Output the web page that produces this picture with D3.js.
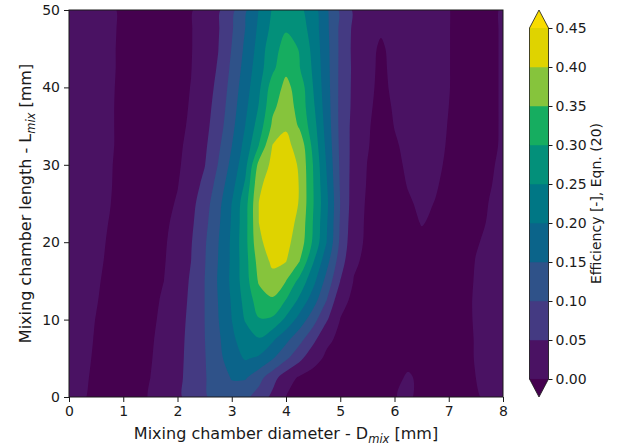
<!DOCTYPE html>
<html>
<head>
<meta charset="utf-8">
<script src="https://cdn.jsdelivr.net/npm/d3@7"></script>
<style>
  body { margin: 0; background: #ffffff; }
  svg { display: block; }
  text { font-family: "DejaVu Sans", sans-serif; fill: #1a1a1a; }
</style>
</head>
<body>
<svg id="chart" width="617" height="448"></svg>
<script>
// Grid axes of the sampled efficiency field
const diameters = [0, 0.25, 0.5, 0.75, 1, 1.25, 1.5, 1.75, 2, 2.25, 2.5, 2.75, 3, 3.25, 3.5, 3.75,
                   4, 4.25, 4.5, 4.75, 5, 5.25, 5.5, 5.75, 6, 6.25, 6.5, 6.75, 7, 7.25, 7.5, 7.75, 8];
const lengths = [0, 2.5, 5, 7.5, 10, 12.5, 15, 17.5, 20, 22.5, 25, 27.5, 30, 32.5, 35, 37.5, 40, 42.5, 45, 47.5, 50];

// Efficiency [-] (Eqn. 20), one row per mixing chamber length, columns follow `diameters`
const efficiency = [
  [0.025, 0.004, -0.010, -0.023, -0.024, -0.011, 0.003, 0.022, 0.042, 0.066, 0.095, 0.118, 0.131, 0.111, 0.080, 0.038, -0.001, -0.010, -0.019, -0.028, -0.032, -0.028, -0.025, -0.019, -0.002, 0.008, -0.014, -0.021, -0.024, -0.017, -0.003, 0.006, 0.014],
  [0.025, 0.007, -0.008, -0.021, -0.026, -0.013, 0.000, 0.020, 0.040, 0.065, 0.096, 0.126, 0.153, 0.155, 0.117, 0.070, 0.021, -0.006, -0.015, -0.024, -0.033, -0.030, -0.028, -0.024, -0.014, 0.007, -0.012, -0.022, -0.024, -0.016, 0.000, 0.008, 0.015],
  [0.025, 0.009, -0.005, -0.018, -0.028, -0.016, -0.003, 0.017, 0.038, 0.064, 0.097, 0.136, 0.176, 0.205, 0.192, 0.155, 0.109, 0.063, 0.015, -0.007, -0.017, -0.027, -0.032, -0.031, -0.025, -0.016, -0.022, -0.027, -0.026, -0.011, 0.002, 0.009, 0.016],
  [0.025, 0.011, -0.003, -0.016, -0.029, -0.018, -0.005, 0.013, 0.036, 0.063, 0.099, 0.141, 0.190, 0.226, 0.247, 0.210, 0.165, 0.117, 0.065, 0.008, -0.008, -0.018, -0.029, -0.032, -0.032, -0.031, -0.030, -0.028, -0.025, -0.010, 0.002, 0.010, 0.017],
  [0.025, 0.012, -0.001, -0.013, -0.026, -0.021, -0.008, 0.009, 0.033, 0.061, 0.100, 0.148, 0.200, 0.254, 0.297, 0.292, 0.239, 0.181, 0.120, 0.055, -0.001, -0.012, -0.024, -0.033, -0.031, -0.030, -0.028, -0.026, -0.024, -0.009, 0.003, 0.010, 0.017],
  [0.025, 0.014, 0.002, -0.011, -0.024, -0.023, -0.010, 0.005, 0.030, 0.058, 0.100, 0.151, 0.205, 0.267, 0.325, 0.343, 0.298, 0.239, 0.173, 0.100, 0.014, -0.009, -0.018, -0.030, -0.031, -0.029, -0.027, -0.025, -0.022, -0.008, 0.003, 0.009, 0.016],
  [0.025, 0.015, 0.004, -0.008, -0.021, -0.026, -0.013, 0.000, 0.027, 0.055, 0.100, 0.154, 0.211, 0.278, 0.356, 0.384, 0.350, 0.285, 0.216, 0.132, 0.050, -0.002, -0.014, -0.027, -0.030, -0.028, -0.025, -0.023, -0.022, -0.009, 0.002, 0.008, 0.015],
  [0.025, 0.016, 0.006, -0.005, -0.018, -0.030, -0.016, -0.003, 0.022, 0.050, 0.097, 0.151, 0.209, 0.281, 0.370, 0.409, 0.401, 0.350, 0.254, 0.167, 0.073, 0.007, -0.010, -0.024, -0.030, -0.026, -0.022, -0.021, -0.022, -0.012, 0.001, 0.007, 0.014],
  [0.025, 0.016, 0.007, -0.003, -0.016, -0.029, -0.018, -0.005, 0.017, 0.047, 0.094, 0.148, 0.209, 0.284, 0.390, 0.423, 0.411, 0.380, 0.292, 0.200, 0.090, 0.015, -0.007, -0.022, -0.027, -0.018, -0.009, -0.013, -0.019, -0.015, -0.002, 0.005, 0.012],
  [0.025, 0.017, 0.008, -0.001, -0.013, -0.026, -0.021, -0.008, 0.011, 0.041, 0.086, 0.141, 0.205, 0.282, 0.400, 0.427, 0.420, 0.388, 0.298, 0.205, 0.095, 0.020, -0.007, -0.023, -0.024, -0.012, 0.002, -0.006, -0.020, -0.021, -0.008, 0.003, 0.011],
  [0.025, 0.017, 0.009, 0.001, -0.011, -0.023, -0.025, -0.012, 0.004, 0.035, 0.078, 0.134, 0.201, 0.280, 0.401, 0.430, 0.427, 0.397, 0.303, 0.211, 0.099, 0.025, -0.006, -0.022, -0.019, -0.004, 0.006, -0.001, -0.014, -0.022, -0.011, 0.001, 0.010],
  [0.025, 0.017, 0.009, 0.002, -0.009, -0.021, -0.027, -0.015, -0.002, 0.026, 0.062, 0.119, 0.182, 0.257, 0.390, 0.424, 0.427, 0.398, 0.302, 0.204, 0.095, 0.028, -0.003, -0.022, -0.013, 0.002, 0.009, 0.003, -0.008, -0.020, -0.013, -0.002, 0.008],
  [0.025, 0.017, 0.010, 0.002, -0.007, -0.016, -0.026, -0.021, -0.006, 0.018, 0.048, 0.102, 0.164, 0.235, 0.365, 0.412, 0.422, 0.395, 0.299, 0.196, 0.092, 0.031, -0.001, -0.020, -0.009, 0.006, 0.011, 0.005, -0.004, -0.014, -0.016, -0.004, 0.006],
  [0.025, 0.018, 0.010, 0.003, -0.006, -0.016, -0.026, -0.022, -0.008, 0.012, 0.041, 0.090, 0.149, 0.217, 0.301, 0.401, 0.410, 0.385, 0.286, 0.187, 0.089, 0.033, 0.003, -0.018, -0.004, 0.008, 0.011, 0.006, -0.002, -0.011, -0.020, -0.007, 0.004],
  [0.025, 0.018, 0.010, 0.003, -0.006, -0.016, -0.026, -0.022, -0.010, 0.006, 0.035, 0.077, 0.136, 0.201, 0.273, 0.359, 0.396, 0.343, 0.273, 0.179, 0.087, 0.034, 0.005, -0.017, 0.001, 0.010, 0.011, 0.007, -0.001, -0.010, -0.020, -0.008, 0.004],
  [0.025, 0.018, 0.010, 0.003, -0.006, -0.016, -0.026, -0.023, -0.011, 0.003, 0.031, 0.069, 0.127, 0.189, 0.253, 0.340, 0.374, 0.333, 0.260, 0.174, 0.087, 0.038, 0.010, -0.016, 0.005, 0.011, 0.011, 0.006, 0.000, -0.010, -0.020, -0.008, 0.004],
  [0.025, 0.018, 0.011, 0.003, -0.005, -0.016, -0.026, -0.023, -0.012, 0.001, 0.028, 0.061, 0.119, 0.179, 0.240, 0.325, 0.362, 0.330, 0.250, 0.170, 0.088, 0.039, 0.012, -0.011, 0.009, 0.012, 0.011, 0.006, 0.001, -0.010, -0.020, -0.008, 0.004],
  [0.025, 0.018, 0.011, 0.004, -0.005, -0.015, -0.026, -0.023, -0.012, -0.001, 0.025, 0.054, 0.110, 0.169, 0.229, 0.288, 0.340, 0.302, 0.243, 0.167, 0.089, 0.040, 0.012, -0.008, 0.010, 0.012, 0.012, 0.006, 0.001, -0.009, -0.020, -0.008, 0.004],
  [0.025, 0.018, 0.011, 0.004, -0.005, -0.016, -0.026, -0.023, -0.013, -0.002, 0.022, 0.049, 0.102, 0.160, 0.219, 0.285, 0.315, 0.298, 0.236, 0.165, 0.090, 0.038, 0.011, -0.005, 0.010, 0.012, 0.012, 0.006, 0.001, -0.009, -0.020, -0.008, 0.004],
  [0.025, 0.018, 0.011, 0.004, -0.004, -0.015, -0.026, -0.024, -0.013, -0.002, 0.020, 0.046, 0.095, 0.151, 0.210, 0.264, 0.297, 0.276, 0.229, 0.161, 0.090, 0.040, 0.013, 0.004, 0.010, 0.013, 0.012, 0.006, 0.001, -0.009, -0.020, -0.008, 0.004],
  [0.025, 0.018, 0.011, 0.004, -0.004, -0.015, -0.026, -0.024, -0.013, -0.003, 0.018, 0.043, 0.088, 0.143, 0.202, 0.254, 0.276, 0.262, 0.223, 0.158, 0.091, 0.043, 0.020, 0.019, 0.017, 0.015, 0.011, 0.006, 0.001, -0.009, -0.020, -0.008, 0.004]
];

// Filled contour levels and tick values
const levels = [0, 0.05, 0.10, 0.15, 0.20, 0.25, 0.30, 0.35, 0.40, 0.45];
const xTicks = [0, 1, 2, 3, 4, 5, 6, 7, 8];
const yTicks = [0, 10, 20, 30, 40, 50];

// Band colours: below 0, the nine bands between levels, above 0.45
const bandColors = ["#45014f", "#4a1263", "#443a82", "#2f5289", "#0b648a", "#007785",
                    "#03907a", "#16ad60", "#86c43c", "#dfd300", "#f8dc00"];

const svg = d3.select("#chart");
const plot = { left: 69, right: 503, top: 10, bottom: 397 };

const x = d3.scaleLinear().domain([0, 8]).range([plot.left, plot.right]);
const y = d3.scaleLinear().domain([0, 50]).range([plot.bottom, plot.top]);

// Contour geometry lives in grid space; sample i sits at i + 0.5
const nx = diameters.length, ny = lengths.length;
const gridToD = d3.scaleLinear().domain([0.5, nx - 0.5]).range([diameters[0], diameters[nx - 1]]);
const gridToL = d3.scaleLinear().domain([0.5, ny - 0.5]).range([lengths[0], lengths[ny - 1]]);

const bands = d3.contours().size([nx, ny]).thresholds(levels)(efficiency.flat());

// Each contour ring is drawn as a closed centripetal Catmull-Rom curve through its crossing points
const ringLine = d3.line().curve(d3.curveCatmullRomClosed.alpha(0.5));
function bandPath(geometry) {
  return geometry.coordinates.map(polygon => polygon.map(ring => {
    const pts = ring.slice(0, -1).map(([gx, gy]) => [x(gridToD(gx)), y(gridToL(gy))]);
    return pts.length > 2 ? ringLine(pts) : "";
  }).join("")).join("");
}

svg.append("defs").append("clipPath").attr("id", "plot-clip")
  .append("rect")
  .attr("x", plot.left).attr("y", plot.top)
  .attr("width", plot.right - plot.left).attr("height", plot.bottom - plot.top);

const field = svg.append("g").attr("clip-path", "url(#plot-clip)");
field.append("rect")
  .attr("x", plot.left).attr("y", plot.top)
  .attr("width", plot.right - plot.left).attr("height", plot.bottom - plot.top)
  .attr("fill", bandColors[0]);
field.selectAll("path.band")
  .data(bands)
  .join("path")
  .attr("class", "band")
  .attr("d", d => bandPath(d))
  .attr("fill-rule", "evenodd")
  .attr("fill", (d, i) => bandColors[i + 1]);

// Axes
const xAxis = d3.axisBottom(x).tickValues(xTicks).tickFormat(d3.format("d"))
  .tickSize(5).tickSizeOuter(0).tickPadding(4);
const yAxis = d3.axisLeft(y).tickValues(yTicks).tickFormat(d3.format("d"))
  .tickSize(5).tickSizeOuter(0).tickPadding(4);

const gx = svg.append("g").attr("transform", `translate(0,${plot.bottom})`).call(xAxis);
const gy = svg.append("g").attr("transform", `translate(${plot.left},0)`).call(yAxis);
[gx, gy].forEach(g => {
  g.select(".domain").remove();
  g.selectAll(".tick line").attr("stroke", "#1a1a1a").attr("stroke-width", 1);
  g.selectAll(".tick text").attr("font-size", 14).attr("font-family", "DejaVu Sans").attr("fill", "#1a1a1a");
});

svg.append("rect")
  .attr("x", plot.left).attr("y", plot.top)
  .attr("width", plot.right - plot.left).attr("height", plot.bottom - plot.top)
  .attr("fill", "none").attr("stroke", "#1a1a1a").attr("stroke-width", 1);

// Axis titles with subscripts
const xTitle = svg.append("text")
  .attr("x", (plot.left + plot.right) / 2).attr("y", 439)
  .attr("text-anchor", "middle").attr("font-size", 16);
xTitle.append("tspan").text("Mixing chamber diameter - D");
xTitle.append("tspan").attr("font-size", 11.5).attr("font-style", "italic").attr("dy", 4).text("mix");
xTitle.append("tspan").attr("dy", -4).text(" [mm]");

const yTitle = svg.append("text")
  .attr("transform", `translate(31,${(plot.top + plot.bottom) / 2}) rotate(-90)`)
  .attr("text-anchor", "middle").attr("font-size", 16);
yTitle.append("tspan").text("Mixing chamber length - L");
yTitle.append("tspan").attr("font-size", 11.5).attr("font-style", "italic").attr("dy", 4).text("mix");
yTitle.append("tspan").attr("dy", -4).text(" [mm]");

// Colour bar with extension triangles
const cb = { left: 529.5, right: 548.5, top: 28, bottom: 379, tipTop: 10, tipBottom: 397 };
const cbScale = d3.scaleLinear().domain([levels[0], levels[levels.length - 1]]).range([cb.bottom, cb.top]);
const cbMid = (cb.left + cb.right) / 2;
const cbar = svg.append("g");

cbar.selectAll("rect.swatch")
  .data(d3.pairs(levels))
  .join("rect")
  .attr("class", "swatch")
  .attr("x", cb.left).attr("width", cb.right - cb.left)
  .attr("y", d => cbScale(d[1]))
  .attr("height", d => cbScale(d[0]) - cbScale(d[1]))
  .attr("fill", (d, i) => bandColors[i + 1])
  .attr("stroke", (d, i) => bandColors[i + 1]).attr("stroke-width", 0.5);

cbar.append("path")
  .attr("d", `M${cb.left},${cb.top}L${cbMid},${cb.tipTop}L${cb.right},${cb.top}Z`)
  .attr("fill", bandColors[bandColors.length - 1]);
cbar.append("path")
  .attr("d", `M${cb.left},${cb.bottom}L${cbMid},${cb.tipBottom}L${cb.right},${cb.bottom}Z`)
  .attr("fill", bandColors[0]);
cbar.append("path")
  .attr("d", `M${cb.left},${cb.top}L${cbMid},${cb.tipTop}L${cb.right},${cb.top}L${cb.right},${cb.bottom}` +
             `L${cbMid},${cb.tipBottom}L${cb.left},${cb.bottom}Z`)
  .attr("fill", "none").attr("stroke", "#1a1a1a").attr("stroke-width", 0.8);

const cbAxis = d3.axisRight(cbScale).tickValues(levels).tickFormat(d3.format(".2f"))
  .tickSize(4).tickSizeOuter(0).tickPadding(3);
const gcb = svg.append("g").attr("transform", `translate(${cb.right},0)`).call(cbAxis);
gcb.select(".domain").remove();
gcb.selectAll(".tick line").attr("stroke", "#1a1a1a").attr("stroke-width", 1);
gcb.selectAll(".tick text").attr("font-size", 14).attr("font-family", "DejaVu Sans").attr("fill", "#1a1a1a");

svg.append("text")
  .attr("transform", `translate(601,${(cb.tipTop + cb.tipBottom) / 2}) rotate(-90)`)
  .attr("text-anchor", "middle").attr("font-size", 14)
  .text("Efficiency [-], Eqn. (20)");
</script>
</body>
</html>
